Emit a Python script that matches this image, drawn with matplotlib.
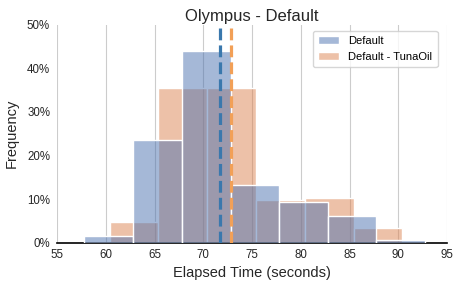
import numpy as np
import matplotlib
matplotlib.use("Agg")
import matplotlib.pyplot as plt
from matplotlib.ticker import PercentFormatter

plt.rcParams['font.family'] = ['Liberation Sans', 'DejaVu Sans']

# bin edges (seconds) and frequencies (%)
default_edges = [57.8, 62.8, 67.8, 72.8, 77.8, 82.8, 87.7, 92.7]
default_freq = [1.6, 23.5, 44.0, 13.3, 9.4, 6.2, 0.5]
tuna_edges = [60.4, 65.4, 70.4, 75.4, 80.4, 85.4, 90.35]
tuna_freq = [4.7, 35.4, 35.4, 9.7, 10.2, 3.3]
default_mean = 71.75
tuna_mean = 72.8

blue = (76/255, 114/255, 176/255)
orange = (221/255, 132/255, 82/255)

fig = plt.figure(figsize=(4.6, 2.87), dpi=100)
ax = fig.add_axes([0.124, 0.155, 0.848, 0.758])

ax.grid(axis='x', color='#cccccc', lw=0.8, zorder=0)
ax.set_axisbelow(True)

te = np.array(tuna_edges)
de = np.array(default_edges)
b2 = ax.bar(te[:-1], tuna_freq, width=np.diff(te), align='edge',
            color=orange + (0.5,), edgecolor='white', lw=1, zorder=2,
            label='Default - TunaOil')
b1 = ax.bar(de[:-1], default_freq, width=np.diff(de), align='edge',
            color=blue + (0.5,), edgecolor='white', lw=1, zorder=3,
            label='Default')

ax.axvline(default_mean, color='#3a78ad', ls='--', lw=2.3, zorder=4)
ax.axvline(tuna_mean, color='#f2a057', ls='--', lw=2.3, zorder=4)

ax.set_xlim(55, 95)
ax.set_ylim(0, 50)
ax.set_xticks(range(55, 96, 5))
ax.yaxis.set_major_formatter(PercentFormatter(decimals=0))
ax.tick_params(length=0, labelsize=8.3, colors='#262626', pad=5)

for s in ['top', 'right', 'left']:
    ax.spines[s].set_visible(False)
ax.spines['bottom'].set_color('black')
ax.spines['bottom'].set_linewidth(1.2)

ax.set_title('Olympus - Default', fontsize=12, color='#262626', pad=3)
ax.set_xlabel('Elapsed Time (seconds)', fontsize=10.5, color='#262626', labelpad=3)
ax.set_ylabel('Frequency', fontsize=10.5, color='#262626', labelpad=6)

ax.legend([b1, b2], ['Default', 'Default - TunaOil'], loc='upper right',
          fontsize=8, frameon=True, edgecolor='#cccccc', borderpad=0.5,
          handlelength=1.9, bbox_to_anchor=(0.99, 1.0))

fig.savefig('out.png', dpi=100)
